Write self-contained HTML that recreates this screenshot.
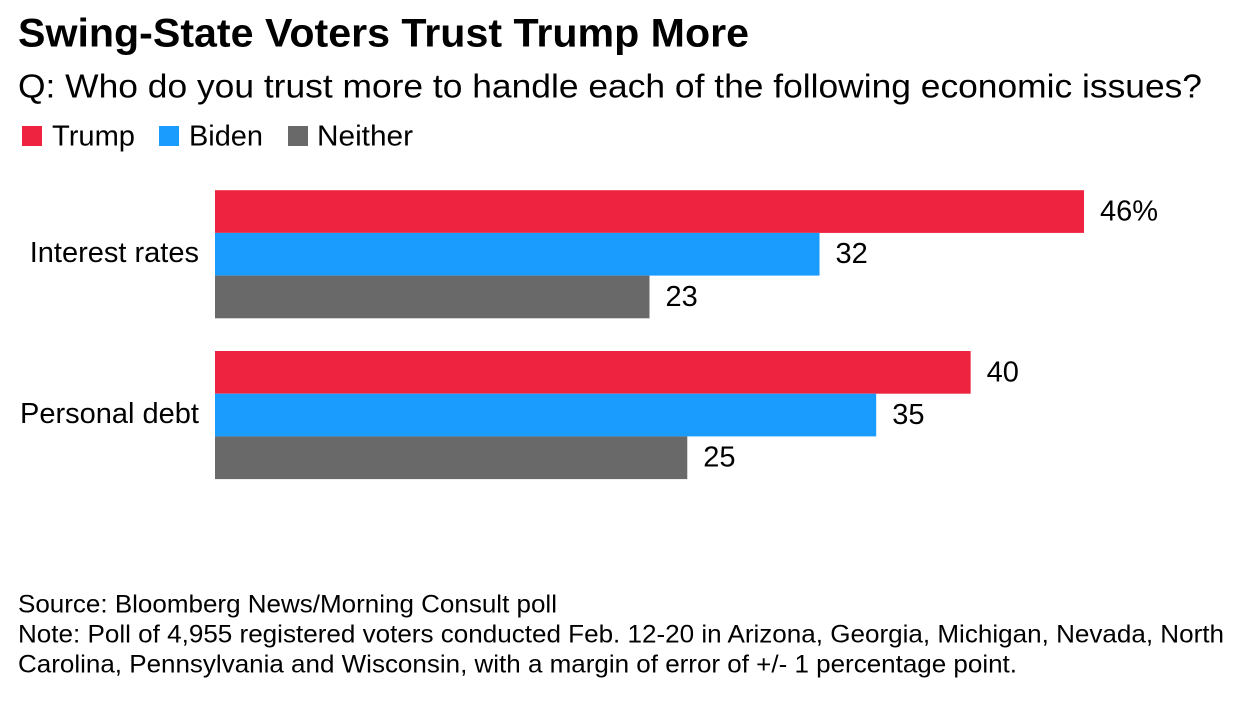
<!DOCTYPE html>
<html lang="en">
<head>
<meta charset="utf-8">
<title>Swing-State Voters Trust Trump More</title>
<style>
html,body{margin:0;padding:0;background:#fff;width:1244px;height:716px;overflow:hidden}
svg{display:block}
text{font-family:"Liberation Sans",Arial,sans-serif;fill:#000}
</style>
</head>
<body>
<svg id="chart" width="1244" height="716" viewBox="0 0 1244 716" xmlns="http://www.w3.org/2000/svg">
  <rect width="1244" height="716" fill="#fff"/>
  <text x="18" y="46.5" font-size="40" font-weight="700" textLength="731" lengthAdjust="spacingAndGlyphs">Swing-State Voters Trust Trump More</text>
  <text x="18" y="97.5" font-size="33.5" textLength="1184" lengthAdjust="spacingAndGlyphs">Q: Who do you trust more to handle each of the following economic issues?</text>
  <g>
    <rect x="22" y="126" width="20" height="20" fill="#ee2340"/>
    <text x="52" y="145.5" font-size="28.5" textLength="83" lengthAdjust="spacingAndGlyphs">Trump</text>
    <rect x="159" y="126" width="20" height="20" fill="#1a9cff"/>
    <text x="189" y="145.5" font-size="28.5" textLength="74" lengthAdjust="spacingAndGlyphs">Biden</text>
    <rect x="288" y="126" width="20" height="20" fill="#696969"/>
    <text x="317" y="145.5" font-size="28.5" textLength="96" lengthAdjust="spacingAndGlyphs">Neither</text>
  </g>
  <g id="plot"></g>
  <g>
    <text x="18" y="612.5" font-size="25" textLength="539" lengthAdjust="spacingAndGlyphs">Source: Bloomberg News/Morning Consult poll</text>
    <text x="18" y="642.5" font-size="25" textLength="1206" lengthAdjust="spacingAndGlyphs">Note: Poll of 4,955 registered voters conducted Feb. 12-20 in Arizona, Georgia, Michigan, Nevada, North</text>
    <text x="18" y="672.5" font-size="25" textLength="999" lengthAdjust="spacingAndGlyphs">Carolina, Pennsylvania and Wisconsin, with a margin of error of +/- 1 percentage point.</text>
  </g>
</svg>
<script>
const categories = ["Interest rates", "Personal debt"];
const seriesNames = ["Trump", "Biden", "Neither"];
const trumpValues = [46, 40];
const bidenValues = [32, 35];
const neitherValues = [23, 25];

const seriesValues = [trumpValues, bidenValues, neitherValues];
const seriesColors = ["#ee2340", "#1a9cff", "#696969"];
const NS = "http://www.w3.org/2000/svg";
const plot = document.getElementById("plot");
const barHeight = 42.7;

function xScale(v) { return 215 + v * (869 / 46); }
function groupTop(i) { return 190.2 + i * 160.8; }
function barTop(i, s) { return groupTop(i) + s * barHeight; }

categories.forEach(function (cat, i) {
  const label = document.createElementNS(NS, "text");
  
  
  label.setAttribute("x", 199);
  label.setAttribute("y", groupTop(i) + 71.8);
  label.setAttribute("font-size", 29);
  label.setAttribute("text-anchor", "end");
  label.textContent = cat;
  plot.appendChild(label);

  seriesValues.forEach(function (vals, s) {
    const v = vals[i];
    const bar = document.createElementNS(NS, "rect");
    
    
    bar.setAttribute("x", xScale(0));
    bar.setAttribute("y", barTop(i, s));
    bar.setAttribute("width", xScale(v) - xScale(0));
    bar.setAttribute("height", barHeight);
    bar.setAttribute("fill", seriesColors[s]);
    plot.appendChild(bar);

    const valueLabel = document.createElementNS(NS, "text");
    
    
    valueLabel.setAttribute("x", xScale(v) + 16);
    valueLabel.setAttribute("y", barTop(i, s) + 30.3);
    valueLabel.setAttribute("font-size", 29);
    valueLabel.textContent = (i === 0 && s === 0) ? v + "%" : String(v);
    plot.appendChild(valueLabel);
  });
});
</script>
</body>
</html>
